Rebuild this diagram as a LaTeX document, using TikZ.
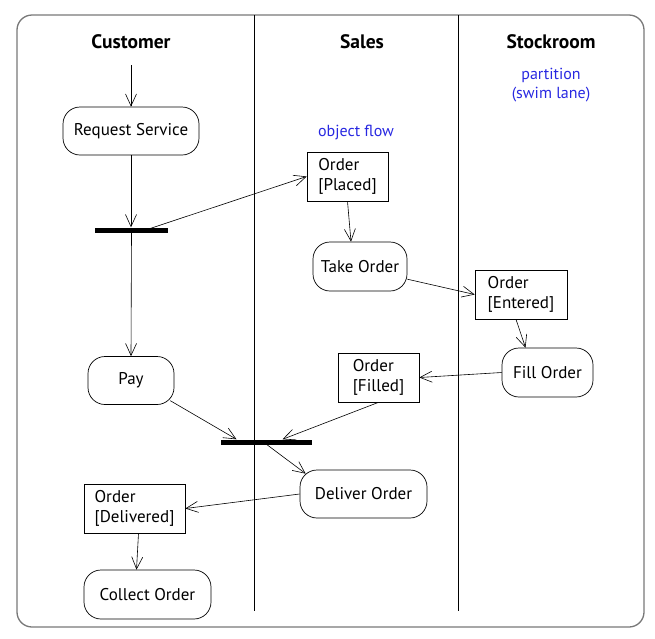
\documentclass[tikz,border=0pt]{standalone}
\usepackage{fontspec}
\setmainfont{PT Sans}
\usetikzlibrary{arrows.meta}
\definecolor{annot}{RGB}{40,40,225}
\definecolor{framegray}{RGB}{120,120,120}
\begin{document}
\begin{tikzpicture}[x=1pt,y=-1pt,
  txt/.style={font=\fontsize{17}{19.5}\selectfont},
  head/.style={font=\fontsize{19.5}{22}\selectfont\bfseries},
  note/.style={font=\fontsize{16}{19}\selectfont, text=annot, align=center},
  act/.style={txt, draw, rectangle, rounded corners=17pt, minimum height=48pt, inner sep=0pt, line width=0.7pt},
  obj/.style={txt, draw, rectangle, minimum height=49pt, align=left, inner sep=0pt, line width=0.7pt},
  bar/.style={fill=black, minimum height=5pt, inner sep=0pt},
  flow/.style={-{Straight Barb[length=12pt,width=11pt]}, line width=0.6pt}]
\useasboundingbox (0,0) rectangle (655,638);
% frame and lanes
\draw[framegray, line width=1.3pt, rounded corners=15pt] (17,15) rectangle (644,627);
\draw[line width=0.7pt] (254,15) -- (254,611);
\draw[line width=0.7pt] (458,15) -- (458,611);
% headers
\node[head] (hcust) at (131,42) {Customer};
\node[head] (hsales) at (362,42) {Sales};
\node[head] (hstock) at (551,42) {Stockroom};
\node[note] (npart) at (551,85) {partition\\(swim lane)};
\node[note] (nflow) at (356,132) {object flow};
% nodes
\coordinate (start) at (131,65);
\node[act, minimum width=136pt] (rs) at (131,131) {Request Service};
\node[bar, minimum width=73pt] (fork1) at (131.5,230) {};
\node[act, minimum width=86pt] (pay) at (131,380.5) {Pay};
\node[bar, minimum width=91pt] (fork2) at (266.5,442) {};
\node[obj, minimum width=101pt] (delivered) at (134.5,508.5) {Order\\{[}Delivered{]}};
\node[act, minimum width=127pt, minimum height=49pt] (collect) at (147.5,594.5) {Collect Order};
\node[obj, minimum width=81pt] (placed) at (347.5,176.5) {Order\\{[}Placed{]}};
\node[act, minimum width=94pt, minimum height=49pt] (take) at (360,266.5) {Take Order};
\node[obj, minimum width=81pt] (filled) at (378.5,377.5) {Order\\{[}Filled{]}};
\node[act, minimum width=127pt] (deliver) at (363.5,494) {Deliver Order};
\node[obj, minimum width=92pt] (entered) at (521,294.5) {Order\\{[}Entered{]}};
\node[act, minimum width=91pt, minimum height=49pt] (fill) at (547.5,372.5) {Fill Order};
% flows
\draw[flow] (start) -- (rs.north);
\draw[flow] (rs.south) -- (rs.south |- fork1.north);
\draw[flow] (fork1.south) -- (pay.north);
\draw[flow] ([xshift=14pt]fork1.center) -- (placed.west);
\draw[flow] (placed.south) -- ([xshift=-9pt]take.north);
\draw[flow] (take.-15) -- (entered.west);
\draw[flow] ([xshift=-5pt]entered.south) -- ([xshift=-22pt]fill.north);
\draw[flow] (fill.west) -- (filled.east);
\draw[flow] (filled.south) -- ([xshift=16pt]fork2.north);
\draw[flow] ([xshift=-4pt]pay.-25) -- ([xshift=-30pt]fork2.north);
\draw[flow] ([xshift=0.5pt]fork2.south) -- ([shift={(6pt,-4pt)}]deliver.north west);
\draw[flow] (deliver.west) -- (delivered.east);
\draw[flow] ([xshift=4pt]delivered.south) -- ([xshift=-11pt]collect.north);
\end{tikzpicture}
\end{document}
